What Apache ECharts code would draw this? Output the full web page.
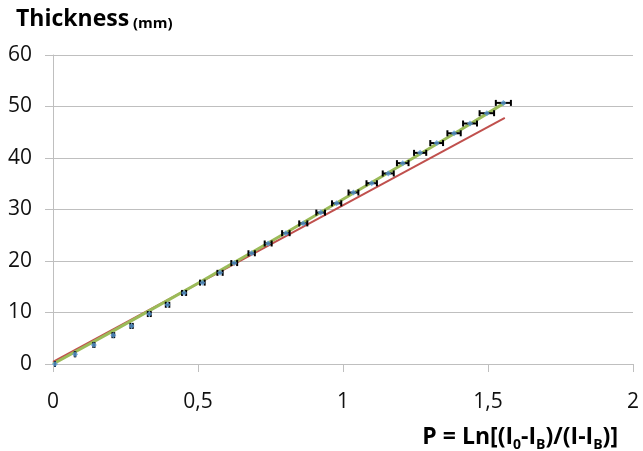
<!DOCTYPE html>
<html>
<head>
<meta charset="utf-8">
<script src="https://cdn.jsdelivr.net/npm/echarts@6/dist/echarts.min.js"></script>
<style>
  html, body { margin: 0; padding: 0; background: #ffffff; }
  #chart { width: 643px; height: 451px; }
</style>
</head>
<body>
<div id="chart"></div>
<script>
// Measured points: P = ln[(I0-IB)/(I-IB)] against absorber thickness (mm)
var pValues = [0.007, 0.076, 0.141, 0.208, 0.271, 0.332, 0.395, 0.452, 0.515, 0.576,
               0.625, 0.685, 0.742, 0.803, 0.863, 0.923, 0.978, 1.036, 1.099, 1.156,
               1.206, 1.266, 1.323, 1.383, 1.438, 1.496, 1.553];
var thickness = [0, 1.9, 3.7, 5.6, 7.4, 9.7, 11.5, 13.8, 15.8, 17.7,
                 19.6, 21.5, 23.4, 25.4, 27.3, 29.4, 31.2, 33.3, 35.1, 37.0,
                 39.0, 41.0, 42.9, 44.8, 46.7, 48.7, 50.7];
// Horizontal uncertainty on P for each point
var pError = [0, 0.001, 0.002, 0.003, 0.004, 0.005, 0.006, 0.007, 0.008, 0.009,
              0.010, 0.011, 0.012, 0.013, 0.014, 0.015, 0.016, 0.017, 0.018, 0.019,
              0.020, 0.021, 0.022, 0.023, 0.024, 0.025, 0.026];

// Trend curve through the measurements (green), sampled along P
var trendX = [0, 0.2, 0.4, 0.6, 0.8, 1.0, 1.2, 1.4, 1.56];
var trendY = [0, 6.2, 12.5, 18.9, 25.4, 32.0, 38.6, 45.3, 50.8];
// Straight reference line (red), given by its end points
var refLineX = [0, 1.558];
var refLineY = [0.4, 47.8];

// Axis ticks
var xTicks = [0, 0.5, 1, 1.5, 2];
var yTicks = [0, 10, 20, 30, 40, 50, 60];

var FONT = '"Open Sans", "Liberation Sans", sans-serif';
var GRID_GRAY = '#bfbfbf';

function pairs(xs, ys) {
  return xs.map(function (x, i) { return [x, ys[i]]; });
}

var chart = echarts.init(document.getElementById('chart'), null, { renderer: 'canvas' });

var option = {
  backgroundColor: '#ffffff',
  animation: false,
  grid: { left: 53, right: 10, top: 55, bottom: 87, containLabel: false },
  xAxis: {
    type: 'value',
    min: xTicks[0],
    max: xTicks[xTicks.length - 1],
    interval: 0.5,
    axisLine: { show: true, lineStyle: { color: GRID_GRAY, width: 1 } },
    axisTick: { show: true, length: 8, lineStyle: { color: GRID_GRAY } },
    splitLine: { show: false },
    axisLabel: {
      margin: 28,
      color: '#111111',
      fontFamily: FONT,
      fontSize: 21,
      formatter: function (v) { return String(v).replace('.', ','); }
    }
  },
  yAxis: {
    type: 'value',
    min: yTicks[0],
    max: yTicks[yTicks.length - 1],
    interval: 10,
    axisLine: { show: true, lineStyle: { color: GRID_GRAY, width: 1 } },
    axisTick: { show: true, length: 8, lineStyle: { color: GRID_GRAY } },
    splitLine: { show: true, lineStyle: { color: GRID_GRAY, width: 1 } },
    axisLabel: {
      margin: 21,
      color: '#111111',
      fontFamily: FONT,
      fontSize: 21
    }
  },
  graphic: [
    {
      type: 'text',
      x: 16,
      y: 31,
      style: {
        text: '{a|Thickness}{b| (mm)}',
        align: 'left',
        verticalAlign: 'bottom',
        rich: {
          a: { fontFamily: FONT, fontWeight: 'bold', fontSize: 23, fill: '#000000', verticalAlign: 'bottom', lineHeight: 30 },
          b: { fontFamily: FONT, fontWeight: 'bold', fontSize: 15, fill: '#000000', verticalAlign: 'bottom', lineHeight: 25 }
        }
      }
    },
    {
      type: 'text',
      x: 618,
      y: 437,
      style: {
        text: '{m|P = Ln[(I}{s|0}{m|-I}{s|B}{m|)/(I-I}{s|B}{m|)]}',
        align: 'right',
        verticalAlign: 'middle',
        rich: {
          m: { fontFamily: FONT, fontWeight: 'bold', fontSize: 23, fill: '#000000', lineHeight: 30, verticalAlign: 'middle' },
          s: { fontFamily: FONT, fontWeight: 'bold', fontSize: 14, fill: '#000000', lineHeight: 15, verticalAlign: 'bottom' }
        }
      }
    }
  ],
  series: [
    {
      name: 'reference',
      type: 'line',
      data: pairs(refLineX, refLineY),
      showSymbol: false,
      symbol: 'none',
      lineStyle: { color: '#C0504D', width: 2 },
      z: 2
    },
    {
      name: 'trend',
      type: 'line',
      data: pairs(trendX, trendY),
      smooth: true,
      showSymbol: false,
      symbol: 'none',
      lineStyle: { color: '#9BBB59', width: 3 },
      z: 3
    },
    {
      name: 'error',
      type: 'custom',
      data: pValues.map(function (p, i) { return [p, thickness[i], pError[i]]; }),
      renderItem: function (params, api) {
        var x = api.value(0), y = api.value(1), e = api.value(2);
        var a = api.coord([x - e, y]);
        var b = api.coord([x + e, y]);
        var cap = 3;
        var style = { stroke: '#000000', lineWidth: 2 };
        return {
          type: 'group',
          children: [
            { type: 'line', shape: { x1: a[0], y1: a[1], x2: b[0], y2: b[1] }, style: style },
            { type: 'line', shape: { x1: a[0], y1: a[1] - cap, x2: a[0], y2: a[1] + cap }, style: style },
            { type: 'line', shape: { x1: b[0], y1: b[1] - cap, x2: b[0], y2: b[1] + cap }, style: style }
          ]
        };
      },
      z: 4
    },
    {
      name: 'measured',
      type: 'scatter',
      data: pairs(pValues, thickness),
      symbol: 'diamond',
      symbolSize: 6,
      itemStyle: { color: '#5B9BD5' },
      z: 5
    }
  ]
};

chart.setOption(option);
</script>
</body>
</html>
